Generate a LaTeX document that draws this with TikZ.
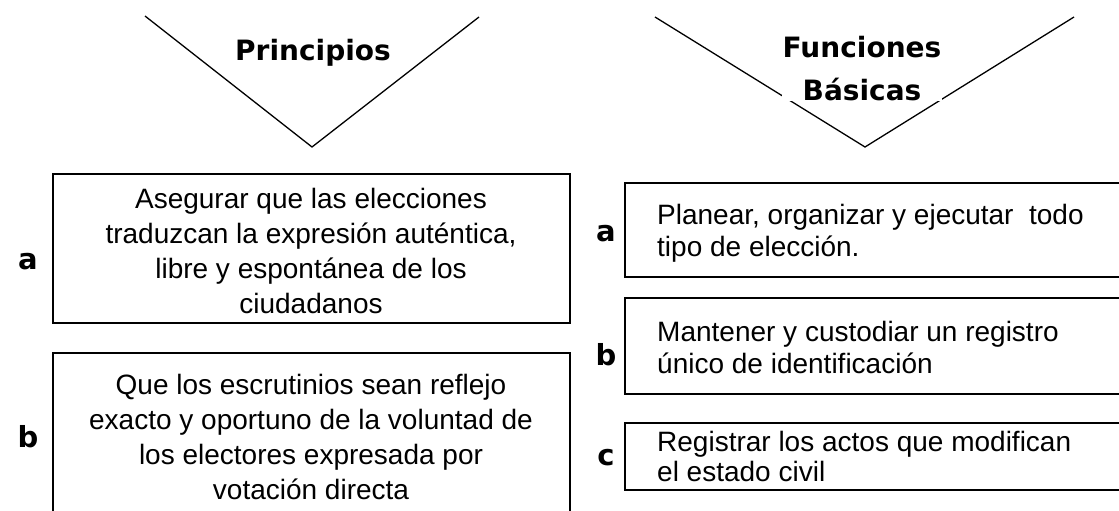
\documentclass[tikz,border=0pt]{standalone}
\usepackage{fontspec}
\setmainfont{Liberation Sans}
\newfontfamily\headfont{DejaVu Sans}
\begin{document}
\begin{tikzpicture}[x=1pt,y=-1pt,
  vline/.style={line width=1.3pt,line join=miter},
  boxline/.style={draw,line width=1.2pt},
  head/.style={font=\headfont\bfseries\fontsize{28}{43}\selectfont,align=center,inner sep=0.5pt},
  body/.style={font=\fontsize{28}{35}\selectfont,inner sep=0pt},
  rbody/.style={font=\fontsize{28}{32}\selectfont,inner sep=0pt,align=left,anchor=base west},
  lab/.style={font=\headfont\bfseries\fontsize{29}{30}\selectfont,inner sep=0pt}]
\useasboundingbox (0,0) rectangle (1119,511);
\clip (0,0) rectangle (1119,511);
% left V
\coordinate (pl) at (145,16);
\coordinate (pa) at (312,147);
\coordinate (pr) at (479,17);
\draw[vline] (pl) -- (pa) -- (pr);
\node[head,anchor=base] (ptitle) at (313,60) {Principios};
% right V
\coordinate (fl) at (655,17);
\coordinate (fa) at (865,147);
\coordinate (fr) at (1074,17);
\draw[vline] (fl) -- (fa) -- (fr);
\node[head,fill=white,anchor=base] (ftitle) at (862,100) {Funciones\\Básicas};
% left boxes
\draw[boxline] (53,174) rectangle (570,323);
\node[body,align=center] (la) at (311,251) {Asegurar que las elecciones\\traduzcan la expresión auténtica,\\libre y espontánea de los\\ciudadanos};
\draw[boxline] (53,353) rectangle (570,530);
\node[body,align=center] (lb) at (311,437) {Que los escrutinios sean reflejo\\exacto y oportuno de la voluntad de\\los electores expresada por\\votación directa};
\node[lab] (lla) at (28,262) {a};
\node[lab] (llb) at (28,437) {b};
% right boxes
\draw[boxline] (625,183) rectangle (1130,277);
\node[rbody] (ra) at (657,256) {Planear, organizar y ejecutar\ \ todo\\tipo de elección.};
\draw[boxline] (625,298) rectangle (1130,394);
\node[rbody] (rb) at (657,373) {Mantener y custodiar un registro\\único de identificación};
\draw[boxline] (625,423) rectangle (1130,490);
\node[rbody,font=\fontsize{28}{30}\selectfont] (rc) at (657,481) {Registrar los actos que modifican\\el estado civil};
\node[lab] (rla) at (606,234) {a};
\node[lab] (rlb) at (606,355) {b};
\node[lab] (rlc) at (606,458) {c};
\end{tikzpicture}
\end{document}
